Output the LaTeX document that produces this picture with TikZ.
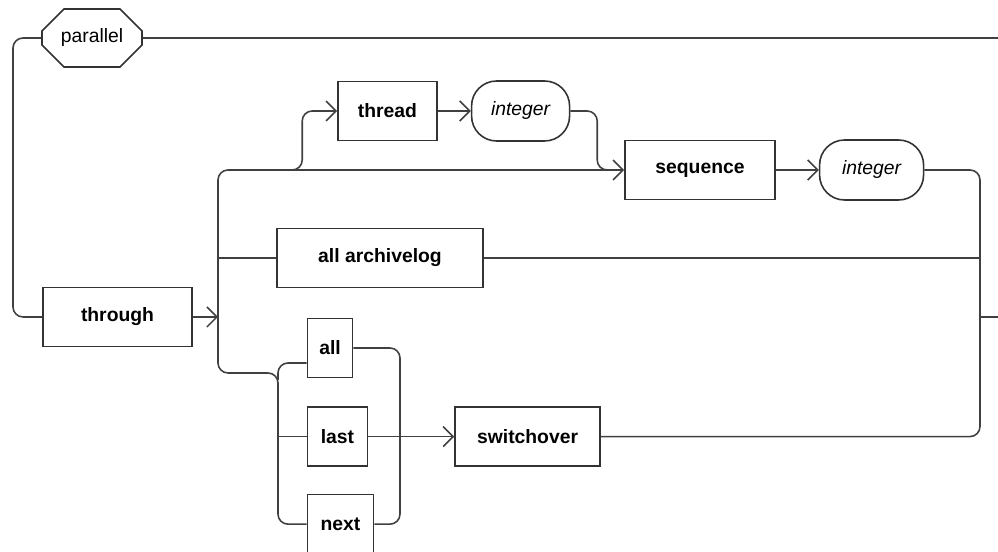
\documentclass[tikz,border=0pt]{standalone}
\usepackage{fontspec}
\setmainfont{Liberation Sans}
\usepackage{tikz}
\usetikzlibrary{positioning,arrows.meta,shapes.misc}
\tikzstyle{kwbox} = [
rectangle,
minimum height=1.18cm,
text centered,
draw=black!80,
line width=0.9pt,
font=\fontsize{11}{13}\selectfont\bfseries
]
\tikzstyle{varbox} = [
rectangle,
rounded corners=0.5cm,
minimum width=1.96cm,
minimum height=1.2cm,
text centered,
draw=black!80,
line width=0.9pt,
font=\fontsize{11}{13}\selectfont\itshape
]
\tikzstyle{termbox} = [
chamfered rectangle,
chamfered rectangle xsep=0.22cm,
chamfered rectangle ysep=0.22cm,
minimum width=2cm,
minimum height=1.16cm,
text centered,
draw=black!80,
line width=0.9pt,
font=\fontsize{11}{13}\selectfont
]
\tikzstyle{rail} = [
draw=black!75,
line width=0.9pt,
rounded corners=0.2cm
]
\tikzstyle{arrow} = [
rail,
-{Straight Barb[length=2mm,width=4mm]}
]

\begin{document}
\begin{tikzpicture}
\useasboundingbox (0,0) rectangle (19.96,-11.04);
%Nodes
\node[termbox] (parallel) at (1.84,-0.76) {parallel};
\node[kwbox,minimum width=2.98cm] (through) at (2.35,-6.34) {through};
\node[kwbox,minimum width=1.98cm] (thread) at (7.75,-2.22) {thread};
\node[varbox,right=0.66cm of thread] (int1) {integer};
\node[kwbox,minimum width=3cm] (sequence) at (14,-3.4) {sequence};
\node[varbox,minimum width=2.08cm,right=0.86cm of sequence] (int2) {integer};
\node[kwbox,minimum width=4.12cm] (archlog) at (7.6,-5.16) {all archivelog};
\node[kwbox,minimum width=0.9cm] (all) at (6.6,-6.96) {all};
\node[kwbox,minimum width=1.2cm,below=0.56cm of all.south west,anchor=north west] (last) {last};
\node[kwbox,minimum width=1.32cm,below=0.54cm of last.south west,anchor=north west] (next) {next};
\node[kwbox,minimum width=2.9cm,right=1.72cm of last] (switch) {switchover};
%Points
\coordinate (lft) at (0.26,-3);
\coordinate (topend) at (19.96,-0.76);
\coordinate (split) at (4.36,-6.34);
\coordinate (tb) at (5.7,-3.4);
\coordinate (rv) at (19.6,-6.34);
\coordinate (out) at (19.96,-6.34);
\coordinate (bv) at (5.56,-7.6);
\coordinate (rj) at (8,-8.7);
%Arrows
\draw[rail] (parallel.west) -| (lft) |- (through.west);
\draw[rail] (parallel.east) -- (topend);
\draw[arrow] (through.east) -- (split);
\draw[arrow] (split) |- (sequence.west);
\draw[arrow] (tb) -| ([xshift=-0.7cm]thread.west) -- (thread.west);
\draw[arrow] (thread.east) -- (int1.west);
\draw[rail] (int1.east) -| ([xshift=-0.54cm]sequence.west) -- ([xshift=-0.3cm]sequence.west);
\draw[arrow] (sequence.east) -- (int2.west);
\draw[rail] (int2.east) -| (rv);
\draw[rail] (split |- archlog.west) -- (archlog.west);
\draw[rail] (archlog.east) -- (archlog.east -| rv);
\draw[rail] (split) |- ([yshift=0.14cm]bv) |- (next.west);
\draw[rail] (bv) |- ([yshift=-0.3cm]all.west);
\draw[rail] (bv |- last.west) -- (last.west);
\draw[rail] (all.east) -| (rj) |- (next.east);
\draw[arrow] (last.east) -- (switch.west);
\draw[rail] (switch.east) -| (rv);
\draw[rail] (rv) -- (out);
\end{tikzpicture}
\end{document}
